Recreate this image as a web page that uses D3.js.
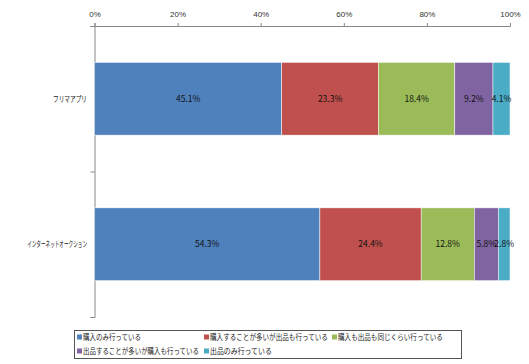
<!DOCTYPE html>
<html>
<head>
<meta charset="utf-8">
<script src="https://cdn.jsdelivr.net/npm/d3@7"></script>
<style>
  body { margin: 0; background: #fff; }
  svg { font-family: "Noto Sans CJK JP", "DejaVu Sans", sans-serif; }
</style>
</head>
<body>
<svg width="529" height="364"></svg>
<script>
// データ
const categories = ["フリマアプリ", "インターネットオークション"];
const seriesNames = [
  "購入のみ行っている",
  "購入することが多いが出品も行っている",
  "購入も出品も同じくらい行っている",
  "出品することが多いが購入も行っている",
  "出品のみ行っている"
];
const fleaValues = [45.1, 23.3, 18.4, 9.2, 4.1];
const auctionValues = [54.3, 24.4, 12.8, 5.8, 2.8];
const tickValues = [0, 0.2, 0.4, 0.6, 0.8, 1.0];
const colors = ["#4F81BD", "#C0504D", "#9BBB59", "#8064A2", "#4BACC6"];

// 行データを作る
const rows = categories.map((c, i) => {
  const vals = i === 0 ? fleaValues : auctionValues;
  const r = { cat: c };
  seriesNames.forEach((s, j) => r[s] = vals[j]);
  return r;
});

const svg = d3.select("svg");
const x = d3.scaleLinear().domain([0, 1]).range([94.5, 510]);
const y = d3.scaleBand().domain(categories).range([26, 317]).paddingInner(0.5).paddingOuter(0.25);

const stack = d3.stack().keys(seriesNames).offset(d3.stackOffsetExpand);
const layers = stack(rows);

// 文字を横方向に縮めて幅を合わせる
function squeeze(sel, widths, anchorX) {
  sel.each(function (d, i) {
    const w = this.getComputedTextLength();
    const sx = Math.min(1, widths[i] / w);
    d3.select(this).attr("transform", `translate(${anchorX(d, i)},0) scale(${sx},1)`);
  });
}

// 上の軸
const xAxis = svg.append("g")
  .attr("transform", "translate(0,26)")
  .call(d3.axisTop(x).tickValues(tickValues).tickFormat(d3.format(".0%")).tickSize(3).tickSizeOuter(3));
xAxis.select(".domain").attr("stroke", "#888");
xAxis.selectAll(".tick line").attr("stroke", "#888");
xAxis.selectAll("text").attr("font-size", 8).attr("fill", "#333").attr("dy", "-0.4em");

// 左の軸
const yAxis = svg.append("g")
  .attr("transform", "translate(94.5,0)")
  .call(d3.axisLeft(d3.scaleLinear().domain([0, 2]).range([26, 317])).ticks(2).tickFormat("").tickSize(4).tickSizeOuter(4));
yAxis.select(".domain").attr("stroke", "#888");
yAxis.selectAll(".tick line").attr("stroke", "#888");

// カテゴリラベル
const catWidths = [34, 60];
const catLabels = svg.selectAll(".catLabel")
  .data(categories)
  .enter().append("text")
  .attr("x", 0)
  .attr("y", d => y(d) + y.bandwidth() / 2)
  .attr("dy", "0.35em")
  .attr("text-anchor", "end")
  .attr("font-size", 8)
  .attr("fill", "#111")
  .text(d => d);
squeeze(catLabels, catWidths, () => 87);

// 棒
const layer = svg.selectAll(".layer")
  .data(layers)
  .enter().append("g")
  .attr("fill", (d, i) => colors[i]);

layer.selectAll("rect")
  .data(d => d.map(p => ({ p, key: d.key })))
  .enter().append("rect")
  .attr("x", d => x(d.p[0]))
  .attr("width", d => x(d.p[1]) - x(d.p[0]))
  .attr("y", d => y(d.p.data.cat))
  .attr("height", y.bandwidth())
  .attr("stroke", "#fff")
  .attr("stroke-width", 0.5);

layer.selectAll(".val")
  .data(d => d.map(p => ({ p, key: d.key })))
  .enter().append("text")
  .attr("x", d => (x(d.p[0]) + x(d.p[1])) / 2)
  .attr("y", d => y(d.p.data.cat) + y.bandwidth() / 2)
  .attr("dy", "0.35em")
  .attr("text-anchor", "middle")
  .attr("font-size", 8.5)
  .attr("fill", "#111")
  .text(d => d.p.data[d.key].toFixed(1) + "%");

// 凡例
svg.append("rect")
  .attr("x", 74.5).attr("y", 330.5).attr("width", 387).attr("height", 28)
  .attr("fill", "#fff").attr("stroke", "#555").attr("stroke-width", 1);

const legendPos = [[77, 337], [204, 337], [332, 337], [77, 351], [204, 351]];
const legendWidths = [58, 118, 105, 116, 62];
const legend = svg.selectAll(".legend")
  .data(seriesNames)
  .enter().append("g")
  .attr("transform", (d, i) => `translate(${legendPos[i][0]},${legendPos[i][1]})`);
legend.append("rect")
  .attr("x", 0).attr("y", -2.5).attr("width", 5).attr("height", 5)
  .attr("fill", (d, i) => colors[i]);
const legendText = legend.append("text")
  .attr("x", 0).attr("y", 0).attr("dy", "0.35em")
  .attr("font-size", 7.5).attr("fill", "#222")
  .text(d => d);
squeeze(legendText, legendWidths, () => 6);
</script>
</body>
</html>
